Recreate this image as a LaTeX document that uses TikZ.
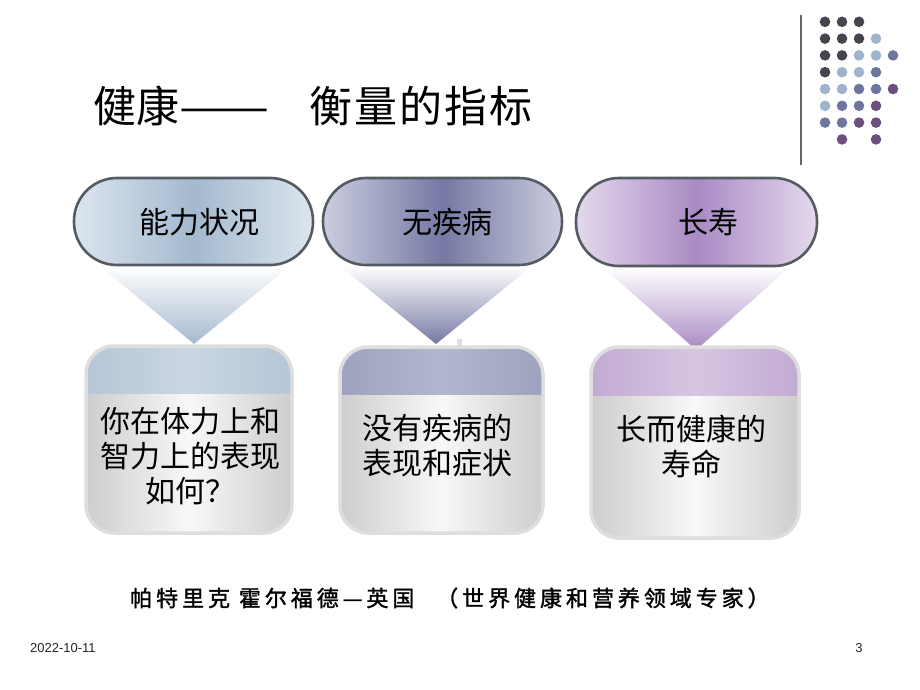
\documentclass[tikz,border=0pt]{standalone}
\usepackage{fontspec}
\setmainfont{Liberation Sans}
\newfontfamily\cjk{Noto Sans CJK SC}
\newfontfamily\cjkcite[LetterSpace=18,FakeBold=1.5]{Noto Sans CJK SC}
\definecolor{dk}{HTML}{45454F}
\definecolor{lb}{HTML}{9EB4CC}
\definecolor{md}{HTML}{6E76A0}
\definecolor{pu}{HTML}{6C4F7F}
\definecolor{pAe}{HTML}{DCE5EE}
\definecolor{pAc}{HTML}{A4B9CE}
\definecolor{pBe}{HTML}{CBCDDF}
\definecolor{pBc}{HTML}{7579A3}
\definecolor{pCe}{HTML}{E4D9EC}
\definecolor{pCc}{HTML}{A98AC4}
\definecolor{bAe}{HTML}{B6C6D6}
\definecolor{bAc}{HTML}{CAD6E2}
\definecolor{bBe}{HTML}{9EA2BE}
\definecolor{bBc}{HTML}{B2B6CE}
\definecolor{bCe}{HTML}{C2ABD2}
\definecolor{bCc}{HTML}{D6C6E2}
\definecolor{pillline}{HTML}{555B63}
\definecolor{boxline}{HTML}{DEDEDE}
\definecolor{bodyedge}{HTML}{CDCDCD}
\definecolor{bodymid}{HTML}{F8F8F8}
\tikzset{
  pilltext/.style={font=\cjk\fontsize{30}{36}\selectfont, text=black},
  boxtext/.style={font=\cjk\fontsize{30}{35}\selectfont, text=black, align=center},
  pillborder/.style={draw=pillline, line width=2.6pt, rounded corners=43pt},
  boxborder/.style={draw=boxline, line width=3.5pt, rounded corners=28pt},
  citetext/.style={anchor=west, font=\cjkcite\fontsize{22}{24}\selectfont, inner sep=0}
}
\begin{document}
\begin{tikzpicture}[x=1pt,y=-1pt]
\useasboundingbox (0,0) rectangle (920,690);
\fill[white] (0,0) rectangle (920,690);

% decorative line and dots
\draw[gray!80!black, line width=1.6pt] (801,15) -- (801,165);
\foreach \c/\r/\col in {1/1/dk,2/1/dk,3/1/dk,
  1/2/dk,2/2/dk,3/2/dk,4/2/lb,
  1/3/dk,2/3/dk,3/3/lb,4/3/lb,5/3/md,
  1/4/dk,2/4/lb,3/4/lb,4/4/md,
  1/5/lb,2/5/lb,3/5/md,4/5/md,5/5/pu,
  1/6/lb,2/6/md,3/6/md,4/6/pu,
  1/7/md,2/7/md,3/7/pu,4/7/pu,
  2/8/pu,4/8/pu}
  \fill[\col] ({808+17*\c},{5+16.8*\r}) circle (5.3pt);

% title
\node[anchor=west, font=\cjk\fontsize{43}{48}\selectfont, inner sep=0] (title1) at (93,106) {健康\scalebox{1.25}[1]{——}};
\node[anchor=west, font=\cjk\fontsize{43}{48}\selectfont, inner sep=0] (title2) at (309,106) {衡\kern2pt 量\kern2pt 的\kern2pt 指\kern2pt 标};

% triangles
\shade[top color=white, bottom color=pAc] (100,266) -- (290,266) -- (194,344) -- cycle;
\shade[top color=white, bottom color=pBc] (340,266) -- (532,266) -- (436,344) -- cycle;
\shade[top color=white, bottom color=pCc] (603,267) -- (790,267) -- (696,350) -- cycle;

% pills
\shade[left color=pAe, right color=pAe, middle color=pAc, rounded corners=43pt] (74,178) rectangle (313,265);
\draw[pillborder] (74,178) rectangle (313,265);
\shade[left color=pBe, right color=pBe, middle color=pBc, rounded corners=43pt] (323,178) rectangle (562,265);
\draw[pillborder] (323,178) rectangle (562,265);
\shade[left color=pCe, right color=pCe, middle color=pCc, rounded corners=43pt] (576,178) rectangle (817,266);
\draw[pillborder] (576,178) rectangle (817,266);

\node[pilltext] (p1) at (199,222) {能力状况};
\node[pilltext] (p2) at (447,222) {无疾病};
\node[pilltext] (p3) at (708,222) {长寿};

% small mark
\fill[gray!25] (457,339) rectangle (462,347);

% bottom boxes
\begin{scope}
\clip[rounded corners=28pt] (86,346) rectangle (292,533);
\shade[left color=bodyedge, right color=bodyedge, middle color=bodymid] (86,346) rectangle (292,533);
\shade[left color=bAe, right color=bAe, middle color=bAc] (86,346) rectangle (292,393);
\end{scope}
\draw[boxborder] (86,346) rectangle (292,533);

\begin{scope}
\clip[rounded corners=28pt] (340,347) rectangle (543,533);
\shade[left color=bodyedge, right color=bodyedge, middle color=bodymid] (340,347) rectangle (543,533);
\shade[left color=bBe, right color=bBe, middle color=bBc] (340,347) rectangle (543,394);
\end{scope}
\draw[boxborder] (340,347) rectangle (543,533);

\begin{scope}
\clip[rounded corners=28pt] (591,347) rectangle (799,538);
\shade[left color=bodyedge, right color=bodyedge, middle color=bodymid] (591,347) rectangle (799,538);
\shade[left color=bCe, right color=bCe, middle color=bCc] (591,347) rectangle (799,395);
\end{scope}
\draw[boxborder] (591,347) rectangle (799,538);

\node[boxtext] (b1) at (190,456) {你在体力上和\\智力上的表现\\如何？};
\node[boxtext] (b2) at (437,446) {没有疾病的\\表现和症状};
\node[boxtext] (b3) at (691,446) {长而健康的\\寿命};

% citation
\node[citetext] (cite1) at (130,598) {帕特里克 霍尔福德—英国};
\node[citetext] (cite2) at (436,598) {（世界健康和营养领域专家）};

% footer
\node[anchor=west, font=\fontsize{13}{15}\selectfont, text=black!85, inner sep=0] (date) at (30,648) {2022-10-11};
\node[anchor=center, font=\fontsize{13}{15}\selectfont, text=black!85, inner sep=0] (page) at (859,648) {3};
\end{tikzpicture}
\end{document}
